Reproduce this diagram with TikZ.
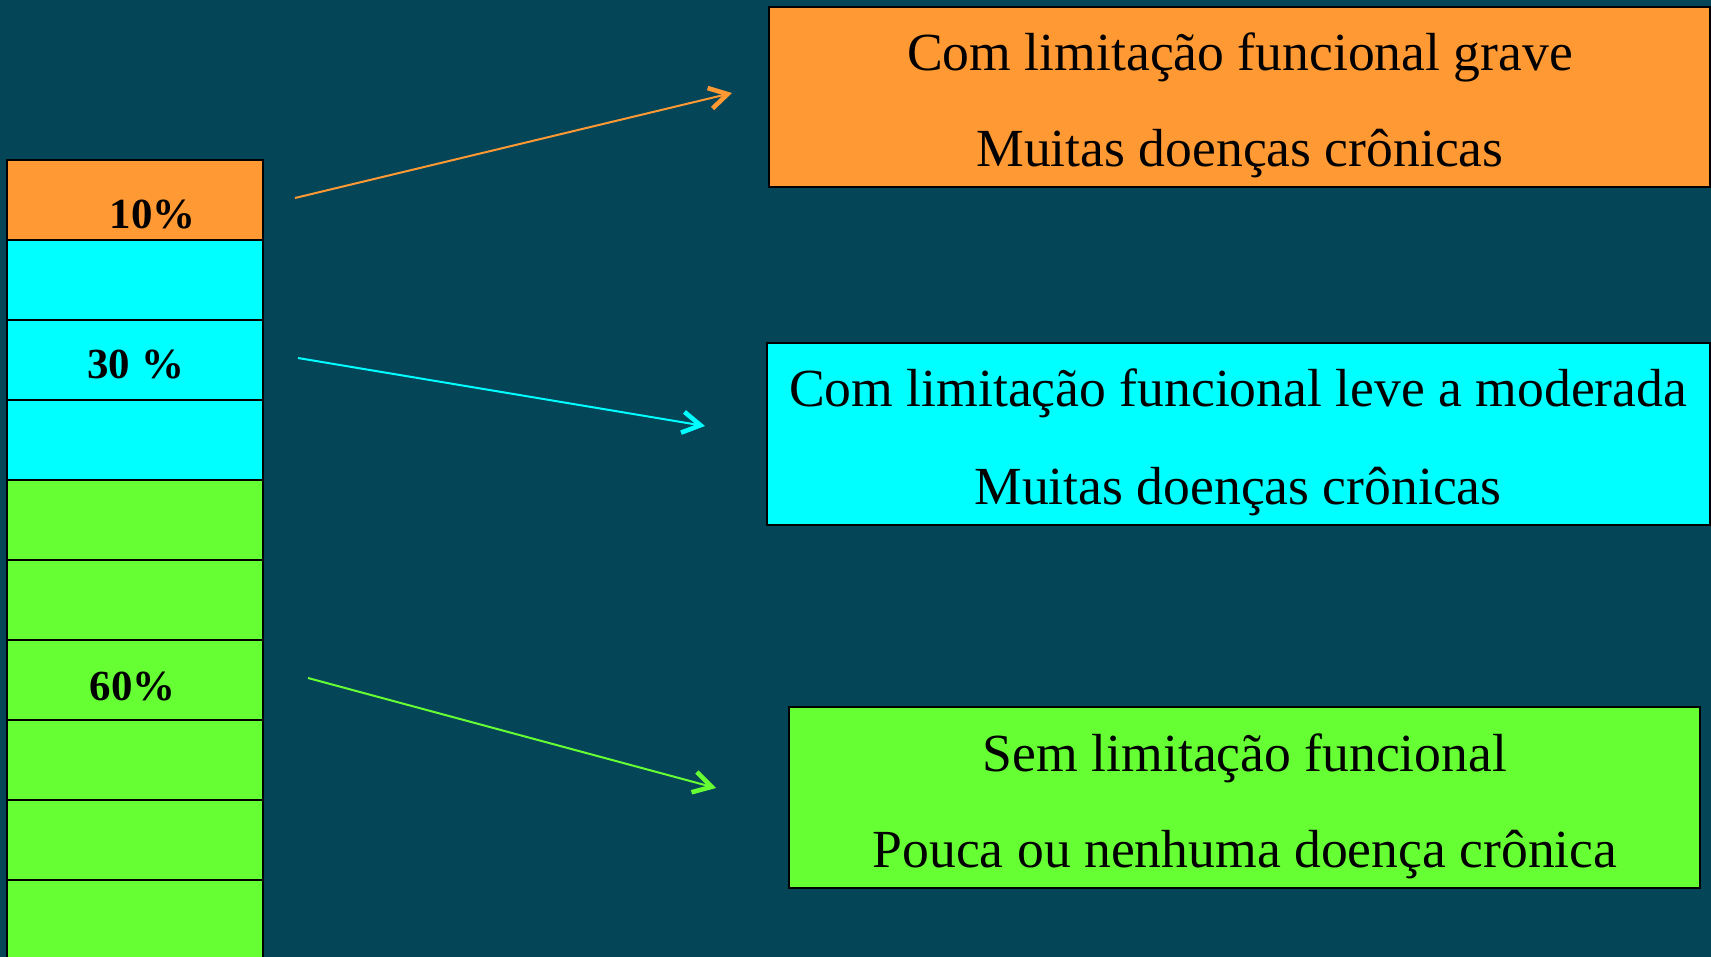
\documentclass[tikz,border=0pt]{standalone}
\usepackage{fontspec}
\setmainfont{Liberation Serif}
\usepackage{tikz}
\usetikzlibrary{arrows.meta}
\definecolor{fundo}{RGB}{4,69,88}
\definecolor{laranja}{RGB}{255,153,51}
\definecolor{ciano}{RGB}{0,255,255}
\definecolor{verde}{RGB}{102,255,51}
\tikzset{
  fila/.style={draw=black, line width=0.02cm, minimum width=2.56cm, minimum height=0.8cm, inner sep=0pt},
  caixa/.style={draw=black, line width=0.02cm, inner sep=0pt},
  texto/.style={anchor=base, inner sep=0pt, font=\fontsize{15.25}{18}\selectfont},
  pct/.style={anchor=base, inner sep=0pt, font=\fontsize{12.2}{15}\selectfont\bfseries},
  seta/.style={line width=0.02cm, -{Straight Barb[length=0.18cm, width=0.21cm, line width=1.3pt]}}
}

\begin{document}
\begin{tikzpicture}[x=0.01cm, y=-0.01cm]
         \useasboundingbox (0,0) rectangle (1711,957);
         \fill[fundo] (0,0) rectangle (1711,957);
         \clip (0,0) rectangle (1711,957);
         \node[fila, fill=laranja] (f1) at (135,200) {};
         \node[fila, fill=ciano] (f2) at (135,280) {};
         \node[fila, fill=ciano] (f3) at (135,360) {};
         \node[fila, fill=ciano] (f4) at (135,440) {};
         \node[fila, fill=verde] (f5) at (135,520) {};
         \node[fila, fill=verde] (f6) at (135,600) {};
         \node[fila, fill=verde] (f7) at (135,680) {};
         \node[fila, fill=verde] (f8) at (135,760) {};
         \node[fila, fill=verde] (f9) at (135,840) {};
         \node[fila, fill=verde] (f10) at (135,920) {};
         \node[pct] (p10) at (152.6,228) {10\%};
         \node[pct] (p30) at (135.7,378) {30 \%};
         \node[pct] (p60) at (132.6,700) {60\%};
         \node[caixa, fill=laranja, minimum width=9.41cm, minimum height=1.8cm] (grave) at (1239.5,97) {};
         \node[texto] (grave1) at (1240,70.7) {Com limitação funcional grave};
         \node[texto] (grave2) at (1240,166.7) {Muitas doenças crônicas};
         \node[caixa, fill=ciano, minimum width=9.43cm, minimum height=1.81cm] (leve) at (1238.5,434) {};
         \node[texto] (leve1) at (1238,406) {Com limitação funcional leve a moderada};
         \node[texto] (leve2) at (1238,504) {Muitas doenças crônicas};
         \node[caixa, fill=verde, minimum width=9.11cm, minimum height=1.81cm] (sem) at (1244.5,797.5) {};
         \node[texto] (sem1) at (1245,771) {Sem limitação funcional};
         \node[texto] (sem2) at (1245,867) {Pouca ou nenhuma doença crônica};
         \coordinate (de10) at (295,198);
         \coordinate (para10) at (732,93);
         \coordinate (de30) at (298,358);
         \coordinate (para30) at (705,426);
         \coordinate (de60) at (308,678);
         \coordinate (para60) at (716,788);
         \draw[seta, laranja] (de10) -- (para10);
         \draw[seta, ciano] (de30) -- (para30);
         \draw[seta, verde] (de60) -- (para60);
\end{tikzpicture}
\end{document}
